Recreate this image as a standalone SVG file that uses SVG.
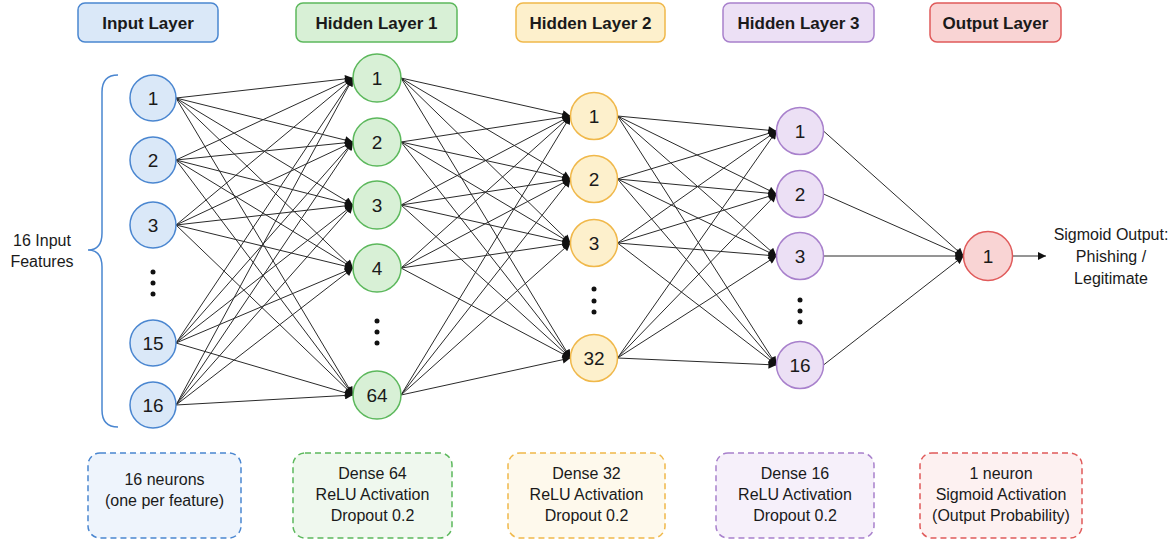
<svg xmlns="http://www.w3.org/2000/svg" width="1175" height="543" viewBox="0 0 1175 543">
<style>
text{font-family:"Liberation Sans",Arial,sans-serif;fill:#1a1a1a}
.hdr{font-size:17px;font-weight:bold;text-anchor:middle}
.num{font-size:19px;text-anchor:middle}
.lbl{font-size:16px;text-anchor:middle}
.c line{stroke:#2a2a2a;stroke-width:1;marker-end:url(#ah)}
.in{fill:#dae8f8;stroke:#4a86d0;stroke-width:1.5}
.h1{fill:#d8f0d6;stroke:#5cb85c;stroke-width:1.5}
.h2{fill:#fdf0cc;stroke:#f0b84a;stroke-width:1.5}
.h3{fill:#ece0f5;stroke:#a880cc;stroke-width:1.5}
.out{fill:#f9d4d4;stroke:#e05a5a;stroke-width:1.5}
.d{stroke-dasharray:6 4}
.dot{fill:#111}
</style>
<defs>
<marker id="ah" viewBox="0 0 10 10" refX="10" refY="5" markerWidth="10" markerHeight="8" markerUnits="userSpaceOnUse" orient="auto"><path d="M0,0 L10,5 L0,10 z" fill="#111"/></marker>
</defs>
<rect width="1175" height="543" fill="#ffffff"/>
<g id="headers">
<rect class="in" x="78" y="3" width="140" height="39" rx="7"/><text class="hdr" x="148" y="29">Input Layer</text>
<rect class="h1" x="296" y="3" width="161" height="39" rx="7"/><text class="hdr" x="376.5" y="29">Hidden Layer 1</text>
<rect class="h2" x="516" y="3" width="149" height="39" rx="7"/><text class="hdr" x="590.5" y="29">Hidden Layer 2</text>
<rect class="h3" x="723" y="3" width="151" height="39" rx="7"/><text class="hdr" x="798.5" y="29">Hidden Layer 3</text>
<rect class="out" x="930" y="3" width="131" height="39" rx="7"/><text class="hdr" x="995.5" y="29">Output Layer</text>
</g>
<g id="brace">
<path d="M118,75 Q102,75 102,92 L102,233 Q102,250 88,250 Q102,250 102,267 L102,410 Q102,427 118,427" fill="none" stroke="#4a86d0" stroke-width="1.5"/>
<text class="lbl" x="42" y="246">16 Input</text>
<text class="lbl" x="42" y="267">Features</text>
</g>
<g id="connectors" class="c">
<line x1="176" y1="98" x2="353" y2="78"/><line x1="176" y1="98" x2="353" y2="142"/><line x1="176" y1="98" x2="353" y2="205"/><line x1="176" y1="98" x2="353" y2="268"/><line x1="176" y1="98" x2="353" y2="395"/>
<line x1="176" y1="160" x2="353" y2="78"/><line x1="176" y1="160" x2="353" y2="142"/><line x1="176" y1="160" x2="353" y2="205"/><line x1="176" y1="160" x2="353" y2="268"/><line x1="176" y1="160" x2="353" y2="395"/>
<line x1="176" y1="225" x2="353" y2="78"/><line x1="176" y1="225" x2="353" y2="142"/><line x1="176" y1="225" x2="353" y2="205"/><line x1="176" y1="225" x2="353" y2="268"/><line x1="176" y1="225" x2="353" y2="395"/>
<line x1="176" y1="343" x2="353" y2="78"/><line x1="176" y1="343" x2="353" y2="142"/><line x1="176" y1="343" x2="353" y2="205"/><line x1="176" y1="343" x2="353" y2="268"/><line x1="176" y1="343" x2="353" y2="395"/>
<line x1="176" y1="405" x2="353" y2="78"/><line x1="176" y1="405" x2="353" y2="142"/><line x1="176" y1="405" x2="353" y2="205"/><line x1="176" y1="405" x2="353" y2="268"/><line x1="176" y1="405" x2="353" y2="395"/>
<line x1="401" y1="78" x2="570.5" y2="116"/><line x1="401" y1="78" x2="570.5" y2="179"/><line x1="401" y1="78" x2="570.5" y2="243"/><line x1="401" y1="78" x2="570.5" y2="358"/>
<line x1="401" y1="142" x2="570.5" y2="116"/><line x1="401" y1="142" x2="570.5" y2="179"/><line x1="401" y1="142" x2="570.5" y2="243"/><line x1="401" y1="142" x2="570.5" y2="358"/>
<line x1="401" y1="205" x2="570.5" y2="116"/><line x1="401" y1="205" x2="570.5" y2="179"/><line x1="401" y1="205" x2="570.5" y2="243"/><line x1="401" y1="205" x2="570.5" y2="358"/>
<line x1="401" y1="268" x2="570.5" y2="116"/><line x1="401" y1="268" x2="570.5" y2="179"/><line x1="401" y1="268" x2="570.5" y2="243"/><line x1="401" y1="268" x2="570.5" y2="358"/>
<line x1="401" y1="395" x2="570.5" y2="116"/><line x1="401" y1="395" x2="570.5" y2="179"/><line x1="401" y1="395" x2="570.5" y2="243"/><line x1="401" y1="395" x2="570.5" y2="358"/>
<line x1="617.5" y1="116" x2="776.5" y2="131"/><line x1="617.5" y1="116" x2="776.5" y2="194"/><line x1="617.5" y1="116" x2="776.5" y2="256"/><line x1="617.5" y1="116" x2="776.5" y2="365"/>
<line x1="617.5" y1="179" x2="776.5" y2="131"/><line x1="617.5" y1="179" x2="776.5" y2="194"/><line x1="617.5" y1="179" x2="776.5" y2="256"/><line x1="617.5" y1="179" x2="776.5" y2="365"/>
<line x1="617.5" y1="243" x2="776.5" y2="131"/><line x1="617.5" y1="243" x2="776.5" y2="194"/><line x1="617.5" y1="243" x2="776.5" y2="256"/><line x1="617.5" y1="243" x2="776.5" y2="365"/>
<line x1="617.5" y1="358" x2="776.5" y2="131"/><line x1="617.5" y1="358" x2="776.5" y2="194"/><line x1="617.5" y1="358" x2="776.5" y2="256"/><line x1="617.5" y1="358" x2="776.5" y2="365"/>
<line x1="823.5" y1="131" x2="963.5" y2="256"/><line x1="823.5" y1="194" x2="963.5" y2="256"/><line x1="823.5" y1="256" x2="963.5" y2="256"/><line x1="823.5" y1="365" x2="963.5" y2="256"/>
<line x1="1012.5" y1="256" x2="1046" y2="256"/>
</g>
<g id="input-nodes">
<g id="in1"><circle class="in" cx="153" cy="98" r="23"/><text class="num" x="153" y="105">1</text></g>
<g id="in2"><circle class="in" cx="153" cy="160" r="23"/><text class="num" x="153" y="167">2</text></g>
<g id="in3"><circle class="in" cx="153" cy="225" r="23"/><text class="num" x="153" y="232">3</text></g>
<g id="in-dots"><circle class="dot" cx="153" cy="272" r="2.5"/><circle class="dot" cx="153" cy="283" r="2.5"/><circle class="dot" cx="153" cy="294" r="2.5"/></g>
<g id="in15"><circle class="in" cx="153" cy="343" r="23"/><text class="num" x="153" y="350">15</text></g>
<g id="in16"><circle class="in" cx="153" cy="405" r="23"/><text class="num" x="153" y="412">16</text></g>
</g>
<g id="hidden1-nodes">
<g id="h1n1"><circle class="h1" cx="377" cy="78" r="24"/><text class="num" x="377" y="85">1</text></g>
<g id="h1n2"><circle class="h1" cx="377" cy="142" r="24"/><text class="num" x="377" y="149">2</text></g>
<g id="h1n3"><circle class="h1" cx="377" cy="205" r="24"/><text class="num" x="377" y="212">3</text></g>
<g id="h1n4"><circle class="h1" cx="377" cy="268" r="24"/><text class="num" x="377" y="275">4</text></g>
<g id="h1-dots"><circle class="dot" cx="377" cy="321" r="2.5"/><circle class="dot" cx="377" cy="332" r="2.5"/><circle class="dot" cx="377" cy="343" r="2.5"/></g>
<g id="h1n64"><circle class="h1" cx="377" cy="395" r="24"/><text class="num" x="377" y="402">64</text></g>
</g>
<g id="hidden2-nodes">
<g id="h2n1"><circle class="h2" cx="594" cy="116" r="23.5"/><text class="num" x="594" y="123">1</text></g>
<g id="h2n2"><circle class="h2" cx="594" cy="179" r="23.5"/><text class="num" x="594" y="186">2</text></g>
<g id="h2n3"><circle class="h2" cx="594" cy="243" r="23.5"/><text class="num" x="594" y="250">3</text></g>
<g id="h2-dots"><circle class="dot" cx="594" cy="289" r="2.5"/><circle class="dot" cx="594" cy="301" r="2.5"/><circle class="dot" cx="594" cy="312" r="2.5"/></g>
<g id="h2n32"><circle class="h2" cx="594" cy="358" r="23.5"/><text class="num" x="594" y="365">32</text></g>
</g>
<g id="hidden3-nodes">
<g id="h3n1"><circle class="h3" cx="800" cy="131" r="23.5"/><text class="num" x="800" y="138">1</text></g>
<g id="h3n2"><circle class="h3" cx="800" cy="194" r="23.5"/><text class="num" x="800" y="201">2</text></g>
<g id="h3n3"><circle class="h3" cx="800" cy="256" r="23.5"/><text class="num" x="800" y="263">3</text></g>
<g id="h3-dots"><circle class="dot" cx="800" cy="300" r="2.5"/><circle class="dot" cx="800" cy="311" r="2.5"/><circle class="dot" cx="800" cy="322" r="2.5"/></g>
<g id="h3n16"><circle class="h3" cx="800" cy="365" r="23.5"/><text class="num" x="800" y="372">16</text></g>
</g>
<g id="output-node">
<circle class="out" cx="988" cy="256" r="24.5"/><text class="num" x="988" y="263">1</text>
</g>
<g id="output-label">
<text class="lbl" x="1111" y="240">Sigmoid Output:</text>
<text class="lbl" x="1111" y="262">Phishing /</text>
<text class="lbl" x="1111" y="284">Legitimate</text>
</g>
<g id="notes">
<g id="note-in"><rect class="in d" x="88" y="453" width="153" height="85" rx="12" style="fill:#eef4fc"/><text class="lbl" x="164.5" y="485">16 neurons</text><text class="lbl" x="164.5" y="506">(one per feature)</text></g>
<g id="note-h1"><rect class="h1 d" x="293" y="453" width="159" height="85" rx="12" style="fill:#eff8ee"/><text class="lbl" x="372.5" y="479">Dense 64</text><text class="lbl" x="372.5" y="500">ReLU Activation</text><text class="lbl" x="372.5" y="521">Dropout 0.2</text></g>
<g id="note-h2"><rect class="h2 d" x="508" y="453" width="157" height="85" rx="12" style="fill:#fef9ec"/><text class="lbl" x="586.5" y="479">Dense 32</text><text class="lbl" x="586.5" y="500">ReLU Activation</text><text class="lbl" x="586.5" y="521">Dropout 0.2</text></g>
<g id="note-h3"><rect class="h3 d" x="716" y="453" width="158" height="85" rx="12" style="fill:#f6f0fa"/><text class="lbl" x="795" y="479">Dense 16</text><text class="lbl" x="795" y="500">ReLU Activation</text><text class="lbl" x="795" y="521">Dropout 0.2</text></g>
<g id="note-out"><rect class="out d" x="920" y="453" width="162" height="85" rx="12" style="fill:#fdf1f1"/><text class="lbl" x="1001" y="479">1 neuron</text><text class="lbl" x="1001" y="500">Sigmoid Activation</text><text class="lbl" x="1001" y="521">(Output Probability)</text></g>
</g>
</svg>
